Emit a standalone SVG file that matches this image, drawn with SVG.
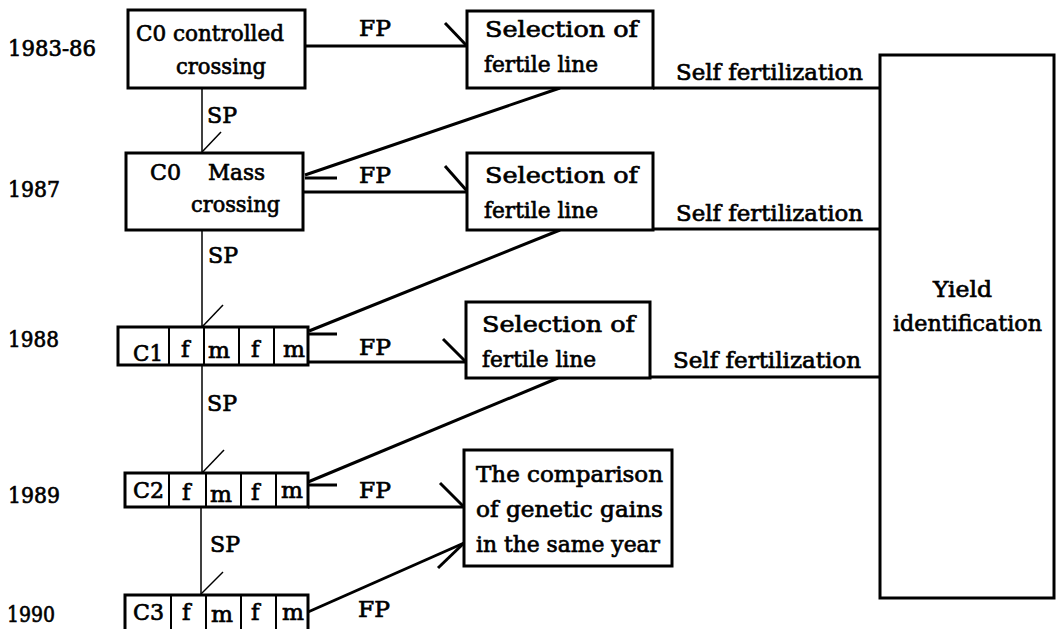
<svg xmlns="http://www.w3.org/2000/svg" width="1056" height="629" viewBox="0 0 1056 629">
<style>
text{font-family:"DejaVu Serif","Liberation Serif",serif;font-size:23px;fill:#000;stroke:#000;stroke-width:0.7}
.box{fill:#fff;stroke:#000;stroke-width:3}
.cell{fill:none;stroke:#000;stroke-width:2}
.c{fill:none;stroke:#000;stroke-width:3}
.sp{fill:none;stroke:#000;stroke-width:1.5}
</style>
<rect width="1056" height="629" fill="#fff"/>
<g id="connectors">
  <line class="sp" x1="202" y1="88" x2="202" y2="153"/>
  <line class="sp" x1="202" y1="152" x2="221" y2="132"/>
  <line class="sp" x1="202" y1="230" x2="202" y2="327"/>
  <line class="sp" x1="202" y1="327" x2="223" y2="305"/>
  <line class="sp" x1="202" y1="365" x2="202" y2="473"/>
  <line class="sp" x1="202" y1="473" x2="224" y2="450"/>
  <line class="sp" x1="201" y1="507" x2="201" y2="595"/>
  <line class="sp" x1="201" y1="594" x2="223" y2="572"/>
  <line class="c" x1="305" y1="46" x2="467" y2="46"/>
  <line class="c" x1="445" y1="23" x2="467" y2="46"/>
  <line class="c" x1="303" y1="192" x2="467" y2="192"/>
  <line class="c" x1="445" y1="166" x2="467" y2="191"/>
  <line class="c" x1="308" y1="362" x2="466" y2="362"/>
  <line class="c" x1="443" y1="339" x2="466" y2="362"/>
  <line class="c" x1="308" y1="507" x2="464" y2="507"/>
  <line class="c" x1="440" y1="483" x2="464" y2="507"/>
  <line class="c" x1="308" y1="612" x2="464" y2="543"/>
  <line class="c" x1="438" y1="568" x2="464" y2="543"/>
  <line class="c" x1="560" y1="88" x2="305" y2="175"/>
  <line class="c" x1="305" y1="178" x2="337" y2="178"/>
  <line class="c" x1="560" y1="230" x2="309" y2="331"/>
  <line class="c" x1="309" y1="334" x2="337" y2="334"/>
  <line class="c" x1="558" y1="378" x2="308" y2="482"/>
  <line class="c" x1="308" y1="485" x2="337" y2="485"/>
  <line class="c" x1="653" y1="88" x2="880" y2="88"/>
  <line class="c" x1="653" y1="229" x2="880" y2="229"/>
  <line class="c" x1="650" y1="377" x2="880" y2="377"/>
  <text x="359" y="36" textLength="32" lengthAdjust="spacingAndGlyphs">FP</text>
  <text x="359" y="183" textLength="32" lengthAdjust="spacingAndGlyphs">FP</text>
  <text x="359" y="355" textLength="32" lengthAdjust="spacingAndGlyphs">FP</text>
  <text x="359" y="498" textLength="32" lengthAdjust="spacingAndGlyphs">FP</text>
  <text x="358" y="617" textLength="32" lengthAdjust="spacingAndGlyphs">FP</text>
  <text x="207" y="123" textLength="30" lengthAdjust="spacingAndGlyphs">SP</text>
  <text x="208" y="263" textLength="30" lengthAdjust="spacingAndGlyphs">SP</text>
  <text x="207" y="411" textLength="30" lengthAdjust="spacingAndGlyphs">SP</text>
  <text x="210" y="552" textLength="30" lengthAdjust="spacingAndGlyphs">SP</text>
  <text x="676" y="80" textLength="187" lengthAdjust="spacingAndGlyphs">Self  fertilization</text>
  <text x="676" y="221" textLength="187" lengthAdjust="spacingAndGlyphs">Self  fertilization</text>
  <text x="673" y="368" textLength="188" lengthAdjust="spacingAndGlyphs">Self  fertilization</text>
</g>
<g id="years">
  <text x="8" y="56" textLength="88" lengthAdjust="spacingAndGlyphs">1983-86</text>
  <text x="8" y="197" textLength="52" lengthAdjust="spacingAndGlyphs">1987</text>
  <text x="8" y="347" textLength="51" lengthAdjust="spacingAndGlyphs">1988</text>
  <text x="8" y="503" textLength="52" lengthAdjust="spacingAndGlyphs">1989</text>
  <text x="7" y="622" textLength="48" lengthAdjust="spacingAndGlyphs">1990</text>
</g>
<g id="c0-controlled">
  <rect class="box" x="128" y="10" width="177" height="78"/>
  <text x="136" y="41" textLength="148" lengthAdjust="spacingAndGlyphs">C0 controlled</text>
  <text x="176" y="74" textLength="90" lengthAdjust="spacingAndGlyphs">crossing</text>
</g>
<g id="c0-mass">
  <rect class="box" x="126" y="153" width="177" height="77"/>
  <text x="150" y="180" textLength="31" lengthAdjust="spacingAndGlyphs">C0</text>
  <text x="208" y="180" textLength="57" lengthAdjust="spacingAndGlyphs">Mass</text>
  <text x="191" y="212" textLength="89" lengthAdjust="spacingAndGlyphs">crossing</text>
</g>
<g id="c1-row">
  <rect class="box" x="118" y="327" width="190" height="38"/>
  <line class="cell" x1="169" y1="327" x2="169" y2="365"/>
  <line class="cell" x1="204" y1="327" x2="204" y2="365"/>
  <line class="cell" x1="239" y1="327" x2="239" y2="365"/>
  <line class="cell" x1="274" y1="327" x2="274" y2="365"/>
  <text x="133" y="361" textLength="30" lengthAdjust="spacingAndGlyphs">C1</text>
  <text x="181" y="357">f</text>
  <text x="208" y="358" textLength="22" lengthAdjust="spacingAndGlyphs">m</text>
  <text x="251" y="357">f</text>
  <text x="283" y="357" textLength="22" lengthAdjust="spacingAndGlyphs">m</text>
</g>
<g id="c2-row">
  <rect class="box" x="125" y="473" width="183" height="34"/>
  <line class="cell" x1="169" y1="473" x2="169" y2="507"/>
  <line class="cell" x1="206" y1="473" x2="206" y2="507"/>
  <line class="cell" x1="241" y1="473" x2="241" y2="507"/>
  <line class="cell" x1="276" y1="473" x2="276" y2="507"/>
  <text x="133" y="498" textLength="31" lengthAdjust="spacingAndGlyphs">C2</text>
  <text x="182" y="500">f</text>
  <text x="210" y="502" textLength="22" lengthAdjust="spacingAndGlyphs">m</text>
  <text x="251" y="500">f</text>
  <text x="281" y="498" textLength="22" lengthAdjust="spacingAndGlyphs">m</text>
</g>
<g id="c3-row">
  <rect class="box" x="125" y="595" width="183" height="38"/>
  <line class="cell" x1="171" y1="595" x2="171" y2="633"/>
  <line class="cell" x1="206" y1="595" x2="206" y2="633"/>
  <line class="cell" x1="241" y1="595" x2="241" y2="633"/>
  <line class="cell" x1="276" y1="595" x2="276" y2="633"/>
  <text x="133" y="620" textLength="31" lengthAdjust="spacingAndGlyphs">C3</text>
  <text x="182" y="620">f</text>
  <text x="211" y="622" textLength="22" lengthAdjust="spacingAndGlyphs">m</text>
  <text x="251" y="620">f</text>
  <text x="282" y="620" textLength="22" lengthAdjust="spacingAndGlyphs">m</text>
</g>
<g id="selection-1">
  <rect class="box" x="467" y="11" width="186" height="77"/>
  <text x="485" y="37" textLength="153" lengthAdjust="spacingAndGlyphs">Selection  of</text>
  <text x="484" y="72" textLength="114" lengthAdjust="spacingAndGlyphs">fertile line</text>
</g>
<g id="selection-2">
  <rect class="box" x="467" y="153" width="186" height="77"/>
  <text x="485" y="183" textLength="153" lengthAdjust="spacingAndGlyphs">Selection  of</text>
  <text x="484" y="218" textLength="114" lengthAdjust="spacingAndGlyphs">fertile line</text>
</g>
<g id="selection-3">
  <rect class="box" x="466" y="302" width="184" height="76"/>
  <text x="482" y="332" textLength="153" lengthAdjust="spacingAndGlyphs">Selection  of</text>
  <text x="482" y="367" textLength="114" lengthAdjust="spacingAndGlyphs">fertile line</text>
</g>
<g id="comparison">
  <rect class="box" x="464" y="450" width="208" height="116"/>
  <text x="476" y="482" textLength="187" lengthAdjust="spacingAndGlyphs">The comparison</text>
  <text x="476" y="517" textLength="187" lengthAdjust="spacingAndGlyphs">of genetic gains</text>
  <text x="476" y="552" textLength="184" lengthAdjust="spacingAndGlyphs">in the same year</text>
</g>
<g id="yield">
  <rect class="box" x="880" y="55" width="174" height="543"/>
  <text x="933" y="297" textLength="59" lengthAdjust="spacingAndGlyphs">Yield</text>
  <text x="893" y="331" textLength="149" lengthAdjust="spacingAndGlyphs">identification</text>
</g>
</svg>
